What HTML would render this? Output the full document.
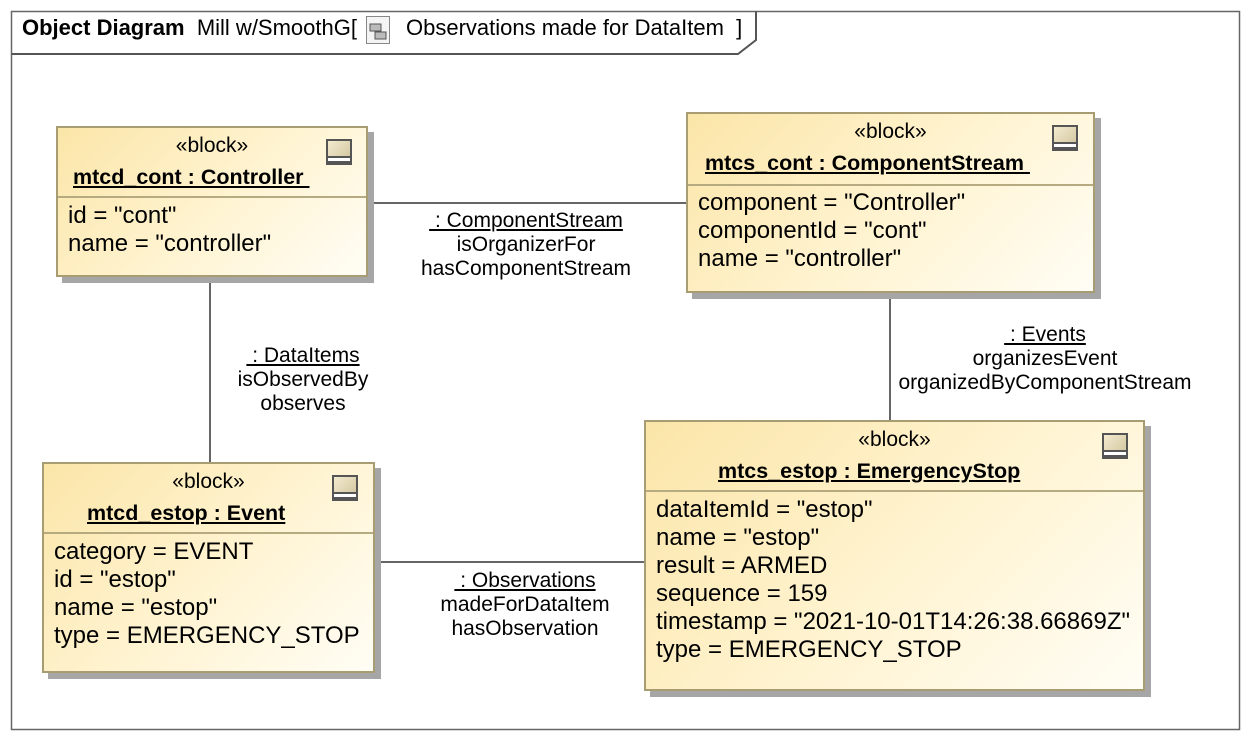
<!DOCTYPE html>
<html><head><meta charset="utf-8"><style>
body{margin:0;width:1250px;height:740px;background:#fff;font-family:"Liberation Sans",Arial,sans-serif;position:relative;overflow:hidden}
.a{position:absolute}
.box{position:absolute;border:2px solid #a89d72;background:linear-gradient(135deg,#fbe5a8 0%,#fff3cf 50%,#fffdf5 100%);box-shadow:6px 6px 0 #a6a6a6;box-sizing:border-box}
.st{position:absolute;left:0;right:0;text-align:center;font-size:21px;line-height:24px}
.nm{position:absolute;font-size:21.5px;font-weight:bold;text-decoration:underline;line-height:24px;white-space:pre}
.dv{position:absolute;left:0;right:0;border-top:2px solid #b5aa80}
.at{position:absolute;left:10px;font-size:24px;line-height:28px;white-space:pre}
.ic{position:absolute;width:26px;height:26px;border:2px solid #555;background:linear-gradient(135deg,#f3ebd0,#cfc39a);box-sizing:border-box}
.ic:after{content:"";position:absolute;left:0;right:0;top:15px;height:3px;border-top:2px solid #555;border-bottom:2px solid #555;background:#fff}
.lb{position:absolute;text-align:center;font-size:21px;line-height:24px;white-space:pre}
.tt{position:absolute;top:15px;font-size:22px;line-height:26px;white-space:pre}
</style></head><body>
<svg class="a" style="left:0;top:0" width="1250" height="740">
<rect x="11.5" y="11.5" width="1228" height="718" fill="none" stroke="#666" stroke-width="1.5"/>
<polyline points="11.5,54 738,54 756,40 756,11.5" fill="none" stroke="#555" stroke-width="2"/>
<g stroke="#333" stroke-width="1.5">
<line x1="367" y1="203" x2="686" y2="203"/>
<line x1="210" y1="276" x2="210" y2="462"/>
<line x1="890" y1="292" x2="890" y2="420"/>
<line x1="374" y1="562" x2="644" y2="562"/>
</g>
<g transform="translate(366,16)">
<rect x="0.5" y="0.5" width="23" height="27" fill="#f4f4f4" stroke="#888"/>
<rect x="4" y="8" width="11" height="7" fill="#bbb" stroke="#555"/>
<rect x="9" y="16" width="11" height="7" fill="#bbb" stroke="#555"/>
</g>
</svg>
<div class="tt" style="left:22px"><b>Object Diagram</b>  Mill w/SmoothG[</div>
<div class="tt" style="left:406px">Observations made for DataItem  ]</div>

<div class="box" style="left:56px;top:126px;width:312px;height:151px">
<div class="st" style="top:6px">«block»</div>
<div class="nm" style="left:15px;top:37px">mtcd_cont : Controller </div>
<div class="ic" style="left:268px;top:11px"></div>
<div class="dv" style="top:68px"></div>
<div class="at" style="top:74px">id = "cont"
name = "controller"</div>
</div>

<div class="box" style="left:686px;top:112px;width:409px;height:181px">
<div class="st" style="top:6px">«block»</div>
<div class="nm" style="left:17px;top:37px">mtcs_cont : ComponentStream </div>
<div class="ic" style="left:364px;top:11px"></div>
<div class="dv" style="top:70px"></div>
<div class="at" style="top:75px">component = "Controller"
componentId = "cont"
name = "controller"</div>
</div>

<div class="box" style="left:42px;top:462px;width:333px;height:211px">
<div class="st" style="top:6px">«block»</div>
<div class="nm" style="left:43px;top:37px">mtcd_estop : Event</div>
<div class="ic" style="left:288px;top:11px"></div>
<div class="dv" style="top:68px"></div>
<div class="at" style="top:74px">category = EVENT
id = "estop"
name = "estop"
type = EMERGENCY_STOP</div>
</div>

<div class="box" style="left:644px;top:420px;width:501px;height:271px">
<div class="st" style="top:6px">«block»</div>
<div class="nm" style="left:72px;top:37px">mtcs_estop : EmergencyStop</div>
<div class="ic" style="left:456px;top:11px"></div>
<div class="dv" style="top:68px"></div>
<div class="at" style="top:74px">dataItemId = "estop"
name = "estop"
result = ARMED
sequence = 159
timestamp = "2021-10-01T14:26:38.66869Z"
type = EMERGENCY_STOP</div>
</div>

<div class="lb" style="left:396px;top:209px;width:260px"><u> : ComponentStream</u>
isOrganizerFor
hasComponentStream</div>
<div class="lb" style="left:208px;top:344px;width:190px"><u> : DataItems</u>
isObservedBy
observes</div>
<div class="lb" style="left:875px;top:323px;width:340px"><u> : Events</u>
organizesEvent
organizedByComponentStream</div>
<div class="lb" style="left:395px;top:569px;width:260px"><u> : Observations</u>
madeForDataItem
hasObservation</div>
</body></html>
